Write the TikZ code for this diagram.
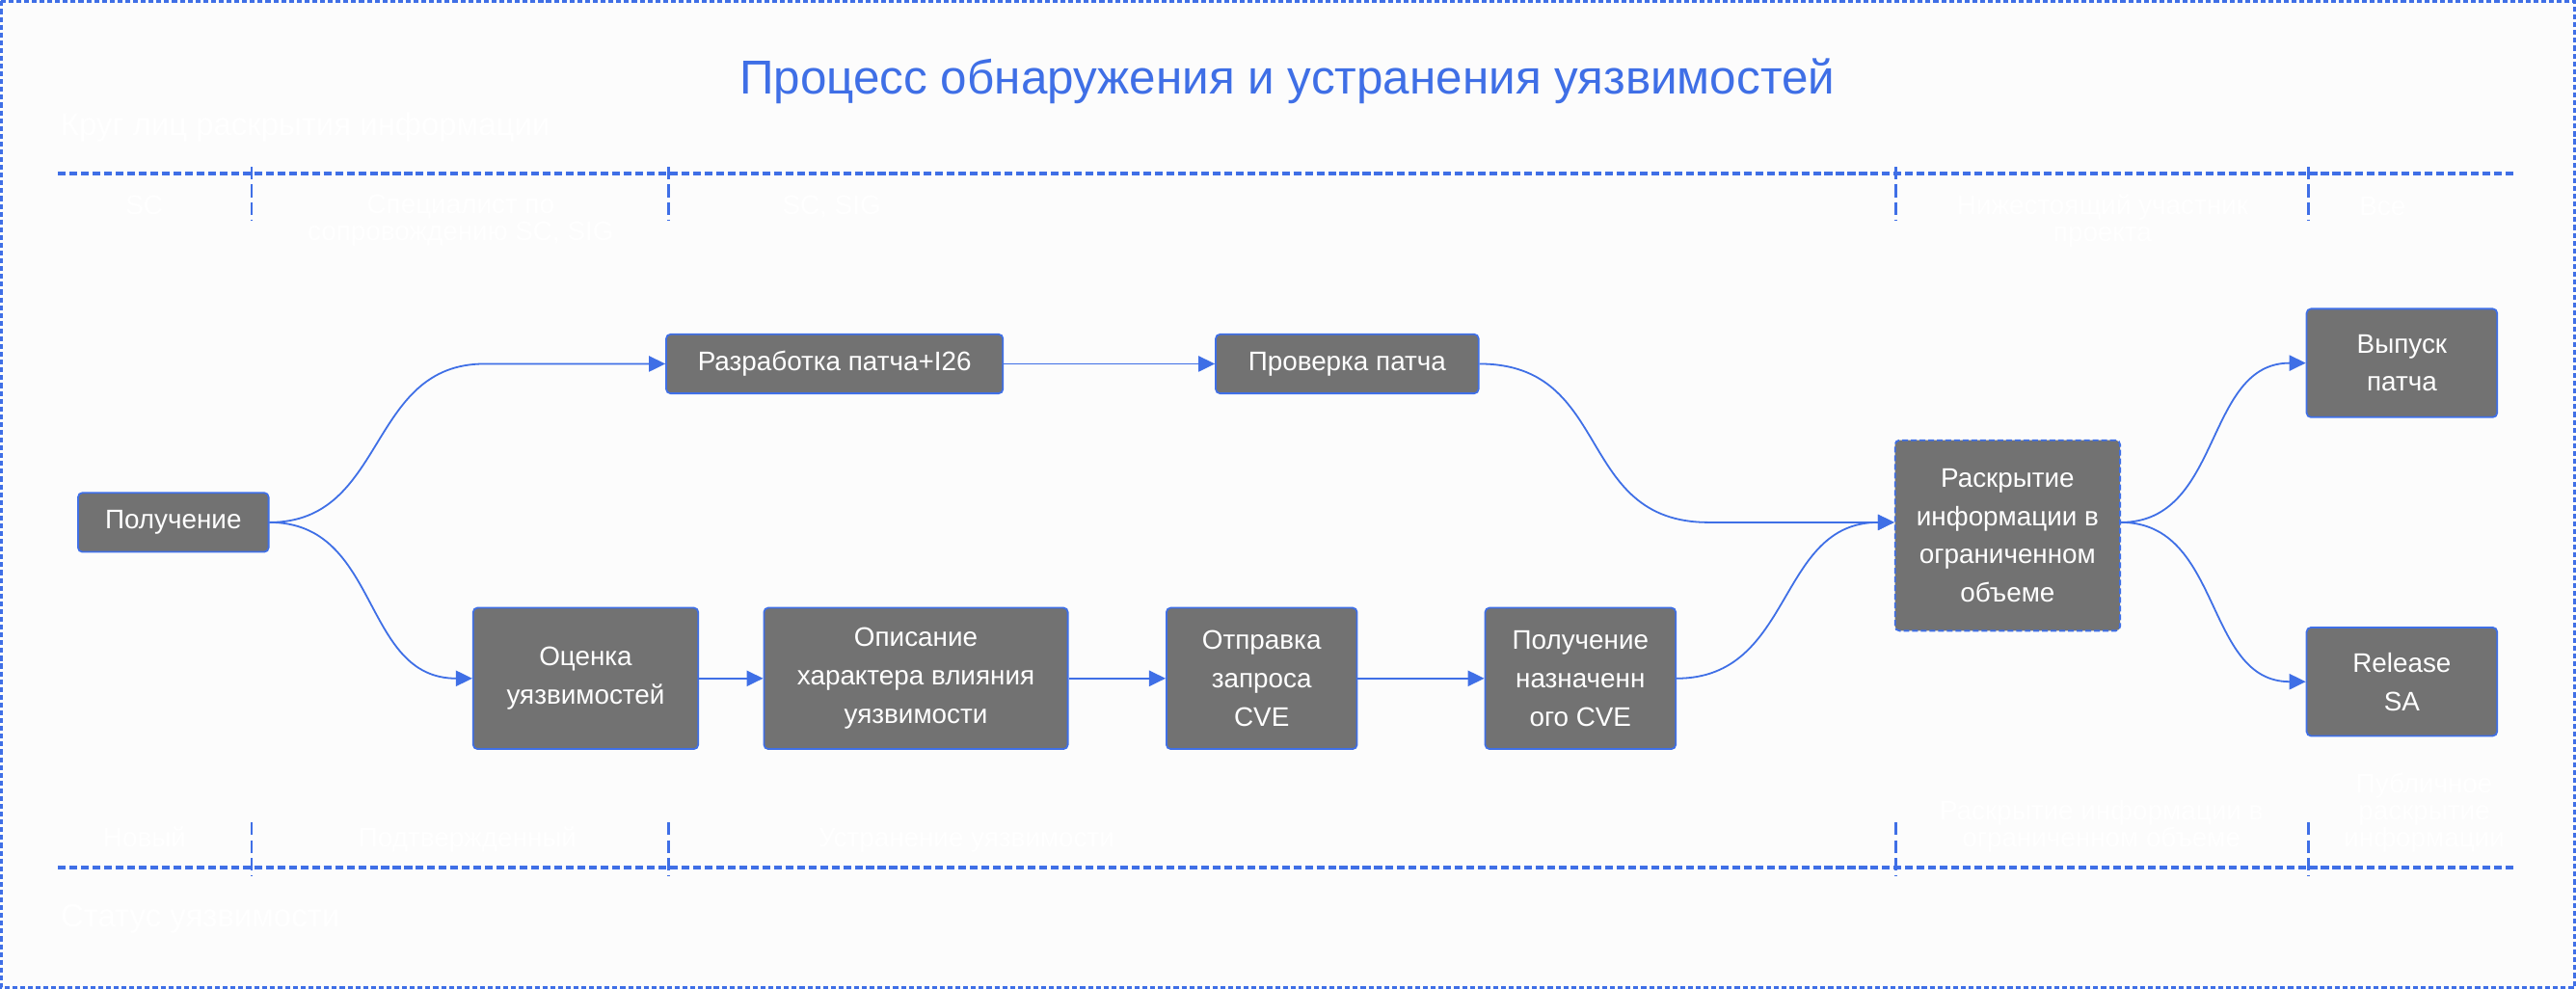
\documentclass[tikz,border=0pt]{standalone}
\usepackage{fontspec}
\setmainfont{Liberation Sans}
\usetikzlibrary{arrows.meta,calc}
\definecolor{flowblue}{HTML}{3F6FE6}
\definecolor{boxgray}{HTML}{727272}
\definecolor{pagebg}{HTML}{FCFCFC}
\newcommand{\boxfont}{\fontsize{9.3}{13.3}\selectfont}
\newcommand{\lblfont}{\fontsize{9.3}{9.3}\selectfont}
\newcommand{\lanefont}{\fontsize{11}{13}\selectfont}
\newcommand{\titlefont}{\fontsize{16.5}{19}\selectfont}

\begin{document}
\begin{tikzpicture}[x=0.02cm, y=-0.02cm,
  procbox/.style={draw=flowblue, fill=boxgray, line width=0.6pt, rounded corners=1.5pt,
    text=white, align=center, inner sep=0pt, font=\boxfont},
  flowarrow/.style={draw=flowblue, line width=0.6pt, -{Triangle[length=0.2cm,width=0.19cm]}},
  laneline/.style={draw=flowblue, line width=1.1pt, dash pattern=on 2.7pt off 1.3pt},
  divider/.style={draw=flowblue, line width=0.9pt, dash pattern=on 4.4pt off 1.7pt},
  ghost/.style={text=white, inner sep=0pt, font=\lblfont, align=center}]

\useasboundingbox (0,0) rectangle (1568,602);
\fill[pagebg] (0,0) rectangle (1568,602);
\draw[flowblue, line width=0.9pt, dash pattern=on 1.7pt off 1pt] (0.8,0.8) rectangle (1567.2,601.2);

\node[text=flowblue, font=\titlefont, anchor=base] (title) at (783.5,57.5) {Процесс обнаружения и устранения уязвимостей};

% who gets the information
\node[ghost, font=\lanefont, anchor=base west] (lblCircle) at (36.6,82.2) {Круг лиц раскрытия информации};
\draw[laneline] (35.3,105.6) -- (1531.4,105.6);
\foreach \x in {153.2,407,1154,1405}
  \draw[divider] (\x,101.6) -- (\x,133.9);

\node[ghost, anchor=base] (lblSC) at (87.8,130.3) {SC};
\node[ghost] (lblMaint) at (280.4,134.4) {Специалист по\\сопровождению SC, SIG};
\node[ghost, anchor=base] (lblSig) at (506.2,130.7) {SC, SIG};
\node[ghost] (lblDown) at (1279.8,134.4) {Нижестоящий участник\\проекта};
\node[ghost, anchor=base] (lblAll) at (1450.2,131) {Все};

% vulnerability status
\node[ghost, font=\lanefont, anchor=base west] (lblStatus) at (36.7,564.4) {Статус уязвимости};
\draw[laneline] (35.3,528.2) -- (1531.4,528.2);
\foreach \x in {153.2,407,1154,1405}
  \draw[divider] (\x,500.7) -- (\x,533);

\node[ghost, anchor=base] (lblNew) at (88,515.5) {Новый};
\node[ghost, anchor=base] (lblConf) at (284.6,515.5) {Подтвержденный};
\node[ghost, anchor=base] (lblFix) at (588.2,515.5) {Устранение уязвимости};
\node[ghost] (lblLim) at (1279.1,503.1) {Раскрытие информации в\\ограниченном объеме};
\node[ghost] (lblPub) at (1475.6,494.7) {Публичное\\раскрытие\\информации};

% process steps
\node[procbox, minimum width=2.32cm, minimum height=0.72cm] (rec) at (105.5,318) {Получение};
\node[procbox, minimum width=4.1cm, minimum height=0.72cm] (dev) at (508,221.5) {Разработка патча+I26};
\node[procbox, minimum width=3.2cm, minimum height=0.72cm] (verify) at (820,221.5) {Проверка патча};

\node[procbox, minimum width=2.74cm, minimum height=1.72cm] (assess) at (356.5,413) {Оценка\\уязвимостей};
\node[procbox, minimum width=3.7cm, minimum height=1.72cm] (impact) at (557.5,413) {Описание\\характера влияния\\уязвимости};
\node[procbox, minimum width=2.32cm, minimum height=1.72cm] (cvereq) at (768,413) {Отправка\\запроса\\CVE};
\node[procbox, minimum width=2.32cm, minimum height=1.72cm] (cveget) at (962,413) {Получение\\назначенн\\ого CVE};

\node[procbox, dash pattern=on 2pt off 1pt, minimum width=2.74cm, minimum height=2.32cm] (limdisc) at (1222,326) {Раскрытие\\информации в\\ограниченном\\объеме};

\node[procbox, minimum width=2.32cm, minimum height=1.32cm] (release) at (1462,221) {Выпуск\\патча};
\node[procbox, minimum width=2.32cm, minimum height=1.32cm] (sa) at (1462,415) {Release\\SA};

\coordinate (limIn) at ($(limdisc.west)+(0,-8)$);
\coordinate (limOut) at ($(limdisc.east)+(0,-8)$);

% links
\draw[flowarrow] (rec.east) .. controls +(72,0) and +(-72,0) .. ($(dev.west)+(-110,0)$) -- (dev.west);
\draw[flowarrow] (rec.east) .. controls +(68,0) and +(-68,0) .. (assess.west);
\draw[flowarrow] (dev.east) -- (verify.west);
\draw[flowarrow] (verify.east) .. controls +(82,0) and +(-82,0) .. ($(limIn)+(-113,0)$) -- (limIn);

\draw[flowarrow] (assess.east) -- (impact.west);
\draw[flowarrow] (impact.east) -- (cvereq.west);
\draw[flowarrow] (cvereq.east) -- (cveget.west);
\draw[flowarrow] (cveget.east) .. controls +(72,0) and +(-72,0) .. (limIn);

\draw[flowarrow] (limOut) .. controls +(62,0) and +(-62,0) .. (release.west);
\draw[flowarrow] (limOut) .. controls +(62,0) and +(-62,0) .. (sa.west);

\end{tikzpicture}
\end{document}
